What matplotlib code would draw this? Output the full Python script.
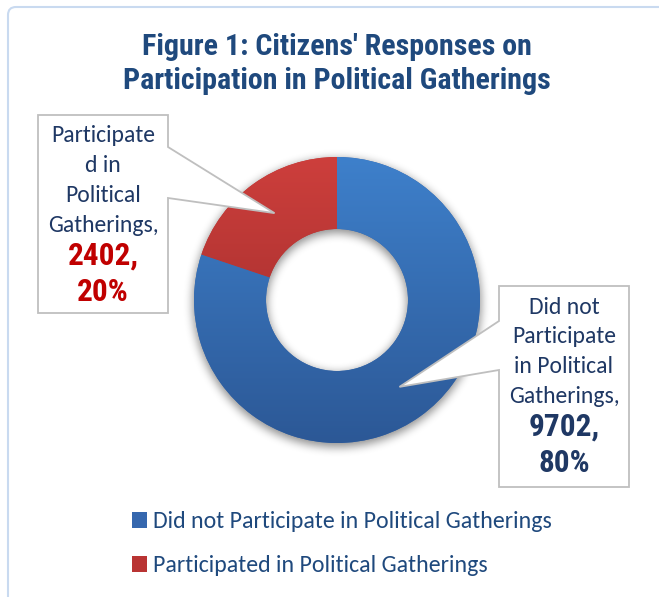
import numpy as np
import matplotlib
matplotlib.use("Agg")
import matplotlib.pyplot as plt
from matplotlib.patches import Polygon, FancyBboxPatch
from matplotlib.colors import LinearSegmentedColormap

# responses
categories = ["Did not Participate in Political Gatherings",
              "Participated in Political Gatherings"]
counts = [9702, 2402]
percents = [80, 20]
box_words = [["Did not", "Participate", "in Political", "Gatherings,"],
             ["Participate", "d in", "Political", "Gatherings,"]]

W, H = 659, 597
fig = plt.figure(figsize=(W / 100, H / 100), dpi=100)
ax = fig.add_axes([0, 0, 1, 1])

def Y(y):
    # pixel rows measured from the top
    return H - y

title_font = ["Roboto Condensed", "DejaVu Sans"]
body_font = ["Carlito", "DejaVu Sans"]
navy = "#1f3864"
title_col = "#1f497d"

cx, cy = 337, Y(300)
R, ring = 143, 72

# outer frame
frame = FancyBboxPatch((8, Y(700)), 800, 693, boxstyle="round,pad=0,rounding_size=8",
                       fc="white", ec="#c9daf0", lw=1.5, zorder=0)
ax.add_patch(frame)

# soft shadow under the ring
gx, gy = np.meshgrid(np.arange(W) + 0.5, np.arange(H) + 0.5)
d = np.hypot(gx - cx, (H - gy) - (cy - 3))
mask = ((d <= R + 1) & (d >= R - ring - 1)).astype(float)
for _ in range(3):
    k = 4
    c = np.cumsum(np.pad(mask, ((0, 0), (k + 1, k)), mode="edge"), axis=1)
    mask = (c[:, 2 * k + 1:] - c[:, :-2 * k - 1]) / (2 * k + 1)
    c = np.cumsum(np.pad(mask, ((k + 1, k), (0, 0)), mode="edge"), axis=0)
    mask = (c[2 * k + 1:, :] - c[:-2 * k - 1, :]) / (2 * k + 1)
shadow = np.zeros((H, W, 4))
shadow[..., 3] = 0.45 * mask
ax.imshow(shadow, extent=(0, W, 0, H), origin="upper", zorder=1, interpolation="bilinear")

wedges, _ = ax.pie(counts, center=(cx, cy), radius=R, startangle=90, counterclock=False,
                   colors=["#3567ae", "#b93433"],
                   wedgeprops=dict(width=ring, linewidth=0, zorder=2))

# vertical shading inside each wedge
grads = [("#3e80cb", "#2c5896"), ("#cd3f3c", "#952828")]
ramp = np.linspace(0, 1, 256).reshape(-1, 1)
for w, (top, bot) in zip(wedges, grads):
    cmap = LinearSegmentedColormap.from_list("g", [top, bot])
    im = ax.imshow(ramp, cmap=cmap, aspect="auto", origin="upper",
                   extent=(cx - R, cx + R, cy - R, cy + R), zorder=3)
    im.set_clip_path(w)

# callouts pointing at the middle of each wedge
boxes = [(499, 286, 629, 487, 321, 370, "left"),
         (38, 115, 168, 313, 147, 198, "right")]
num_colors = [navy, "#c00000"]
ang = 90.0
for i, (x0, y0, x1, y1, p0, p1, side) in enumerate(boxes):
    span = 360.0 * counts[i] / sum(counts)
    mid = np.deg2rad(ang - span / 2)
    ang -= span
    rm = R - ring / 2
    tip = (cx + rm * np.cos(mid), cy + rm * np.sin(mid))
    if side == "left":
        pts = [(x0, Y(y0)), (x1, Y(y0)), (x1, Y(y1)), (x0, Y(y1)),
               (x0, Y(p1)), tip, (x0, Y(p0))]
    else:
        pts = [(x0, Y(y0)), (x1, Y(y0)), (x1, Y(p0)), tip, (x1, Y(p1)),
               (x1, Y(y1)), (x0, Y(y1))]
    ax.add_patch(Polygon(pts, closed=True, fc="white", ec="#bfbfbf", lw=1.3, zorder=5))
    xc = (x0 + x1) / 2
    for j, word in enumerate(box_words[i]):
        ax.text(xc, Y(y0 + 21 + 29.7 * j), word, ha="center", va="center",
                fontsize=17, color=navy, family=body_font, zorder=6)
    ax.text(xc, Y(y0 + 141), f"{counts[i]},", ha="center", va="center",
            fontsize=22.5, fontweight="bold", color=num_colors[i], family=title_font, zorder=6)
    ax.text(xc, Y(y0 + 177), f"{percents[i]}%", ha="center", va="center",
            fontsize=22.5, fontweight="bold", color=num_colors[i], family=title_font, zorder=6)

ax.text(337, Y(64), "Figure 1: Citizens' Responses on\nParticipation in Political Gatherings",
        ha="center", va="center", fontsize=21.6, fontweight="bold", color=title_col,
        family=title_font, linespacing=1.27)

leg = ax.legend(wedges, categories, loc="upper left", bbox_to_anchor=(110, Y(490)),
                bbox_transform=ax.transData, frameon=False, handlelength=0.63,
                handleheight=0.63, handletextpad=0.25, labelspacing=0.95,
                prop=dict(family=body_font, size=17.2), labelcolor=title_col)

ax.set_xlim(0, W)
ax.set_ylim(0, H)
ax.set_aspect("equal")
ax.axis("off")
fig.savefig("out.png", dpi=100)
